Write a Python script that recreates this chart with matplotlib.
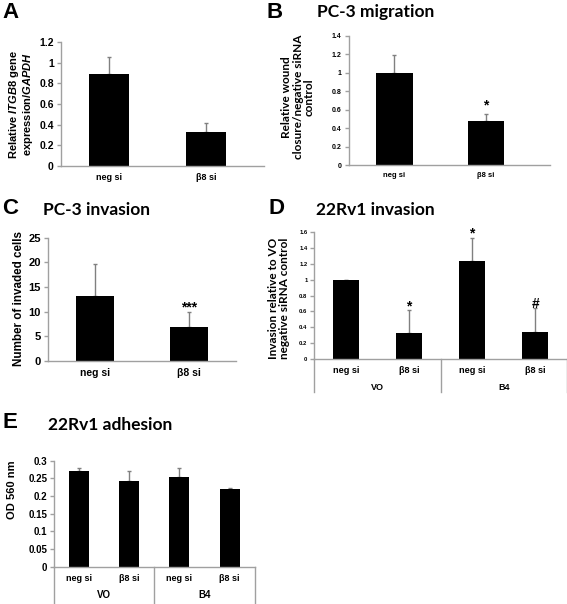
import matplotlib
matplotlib.use("Agg")
import matplotlib.pyplot as plt

plt.rcParams["font.family"] = ["Liberation Sans", "DejaVu Sans"]
plt.rcParams["font.weight"] = "bold"
plt.rcParams["mathtext.fontset"] = "custom"
plt.rcParams["mathtext.rm"] = "Liberation Sans:bold"
plt.rcParams["mathtext.it"] = "Liberation Sans:italic:bold"

# Data
two_cats = ["neg si", "β8 si"]
four_cats = ["neg si", "β8 si", "neg si", "β8 si"]
groups = ["VO", "B4"]

a_vals = [0.889, 0.325]
a_err = [0.165, 0.093]

b_vals = [1.0, 0.474]
b_err = [0.198, 0.083]
b_marks = ["", "*"]

c_vals = [13.2, 6.9]
c_err = [6.5, 3.1]
c_marks = ["", "***"]

d_vals = [1.0, 0.326, 1.233, 0.342]
d_err = [0.0, 0.292, 0.292, 0.301]
d_marks = ["", "*", "*", "#"]

e_vals = [0.272, 0.242, 0.255, 0.221]
e_err = [0.008, 0.030, 0.024, 0.003]

W, H = 567, 604
AXIS_GREY = "#a0a0a0"
ERR_GREY = "#808080"
TITLE_FONT = ["Lato", "DejaVu Sans"]

fig = plt.figure(figsize=(W / 100, H / 100), dpi=100)


def px_axes(left, right, top, bottom):
    return fig.add_axes([left / W, 1 - bottom / H, (right - left) / W, (bottom - top) / H])


def bar_panel(ax, cats, vals, err, ylim, yticks, tick_fs, cat_fs, xmax,
              width=0.41, marks=None, mark_fs=10, mark_off=4):
    x = list(range(len(vals)))
    ax.bar(x, vals, width=width, color="black", zorder=2)
    ax.errorbar(x, vals, yerr=[[0] * len(err), err], fmt="none", ecolor=ERR_GREY,
                elinewidth=1, capsize=1.5, capthick=1, zorder=1)
    ax.set_xlim(-0.5, xmax)
    ax.set_ylim(*ylim)
    ax.set_yticks(yticks)
    ax.set_yticklabels([("%.2f" % v).rstrip("0").rstrip(".") for v in yticks],
                       fontsize=tick_fs, fontweight="bold")
    ax.set_xticks(x)
    ax.set_xticklabels(cats, fontsize=cat_fs, fontweight="bold")
    for s in ["top", "right"]:
        ax.spines[s].set_visible(False)
    for s in ["left", "bottom"]:
        ax.spines[s].set_color(AXIS_GREY)
        ax.spines[s].set_linewidth(1)
    ax.tick_params(axis="y", length=3, width=1, color=AXIS_GREY, pad=2)
    ax.tick_params(axis="x", length=0, pad=5)
    if marks:
        for xi, v, e, m in zip(x, vals, err, marks):
            if m:
                ax.annotate(m, (xi, v + e), xytext=(0, mark_off), textcoords="offset points",
                            ha="center", va="baseline", fontsize=mark_fs, fontweight="bold")


def group_axis(ax, line_bottom, group_y, group_fs):
    tr = ax.get_xaxis_transform()
    for xs in [-0.5, 1.5, 3.5]:
        ax.plot([xs, xs], [0, line_bottom], transform=tr, color=AXIS_GREY, lw=1,
                clip_on=False)
    for gx, g in zip([0.5, 2.5], groups):
        ax.text(gx, group_y, g, transform=tr, ha="center", va="center",
                fontsize=group_fs, fontweight="bold")


# Panel A
axA = px_axes(60.7, 264, 42.3, 165.7)
bar_panel(axA, two_cats, a_vals, a_err, (0, 1.2), [0, 0.2, 0.4, 0.6, 0.8, 1, 1.2],
          7.5, 6.5, 1.6, width=0.41)
fig.text(21 / W, 1 - 104 / H, "Relative $\\mathit{ITGB8}$ gene\nexpression/$\\mathit{GAPDH}$",
         rotation=90, ha="center", va="center", fontsize=8, fontweight="bold",
         linespacing=1.0, multialignment="center")

# Panel B
axB = px_axes(348.6, 550, 36, 165)
bar_panel(axB, two_cats, b_vals, b_err, (0, 1.4), [0, 0.2, 0.4, 0.6, 0.8, 1, 1.2, 1.4],
          5, 5.5, 1.7, width=0.40, marks=b_marks, mark_fs=10, mark_off=3)
fig.text(298 / W, 1 - 97 / H, "Relative wound\nclosure/negative siRNA\ncontrol",
         rotation=90, ha="center", va="center", fontsize=8.5, fontweight="bold",
         family=TITLE_FONT, linespacing=1.05, multialignment="center")

# Panel C
axC = px_axes(48, 236, 237.7, 361)
bar_panel(axC, two_cats, c_vals, c_err, (0, 25), [0, 5, 10, 15, 20, 25],
          8, 7.5, 1.5, width=0.40, marks=c_marks, mark_fs=10, mark_off=0)
fig.text(19.5 / W, 1 - 299 / H, "Number of invaded cells", rotation=90, ha="center",
         va="center", fontsize=8.4, fontweight="bold")

# Panel D
axD = px_axes(314.4, 566.7, 231.7, 359.3)
bar_panel(axD, four_cats, d_vals, d_err, (0, 1.6), [0, 0.2, 0.4, 0.6, 0.8, 1, 1.2, 1.4, 1.6],
          4.2, 6.6, 3.5, width=0.41, marks=d_marks, mark_fs=10, mark_off=0)
group_axis(axD, -0.256, -0.223, 6.5)
fig.text(279 / W, 1 - 298 / H, "Invasion relative to VO\nnegative siRNA control",
         rotation=90, ha="center", va="center", fontsize=8.5, fontweight="bold",
         family=TITLE_FONT, linespacing=1.0, multialignment="center")

# Panel E
axE = px_axes(54.2, 254.6, 460.7, 566.7)
bar_panel(axE, four_cats, e_vals, e_err, (0, 0.3), [0, 0.05, 0.1, 0.15, 0.2, 0.25, 0.3],
          7, 6.5, 3.5, width=0.40)
group_axis(axE, -0.36, -0.27, 7)
fig.text(12.5 / W, 1 - 490 / H, "OD 560 nm", rotation=90, ha="center", va="center",
         fontsize=8, fontweight="bold")

# Panel letters and titles
letters = [("A", 2, 13), ("B", 267, 12), ("C", 2, 209), ("D", 268, 209), ("E", 2, 423)]
for lab, lx, ly in letters:
    fig.text(lx / W, 1 - ly / H, lab, ha="left", va="center", fontsize=16, fontweight="bold")

titles = [("PC-3 migration", 316.7, 12), ("PC-3 invasion", 43, 210),
          ("22Rv1 invasion", 316, 210), ("22Rv1 adhesion", 48, 425)]
for t, tx, ty in titles:
    fig.text(tx / W, 1 - ty / H, t, ha="left", va="center", fontsize=12.5, fontweight="bold",
             family=TITLE_FONT)

fig.savefig("out.png", dpi=100)
